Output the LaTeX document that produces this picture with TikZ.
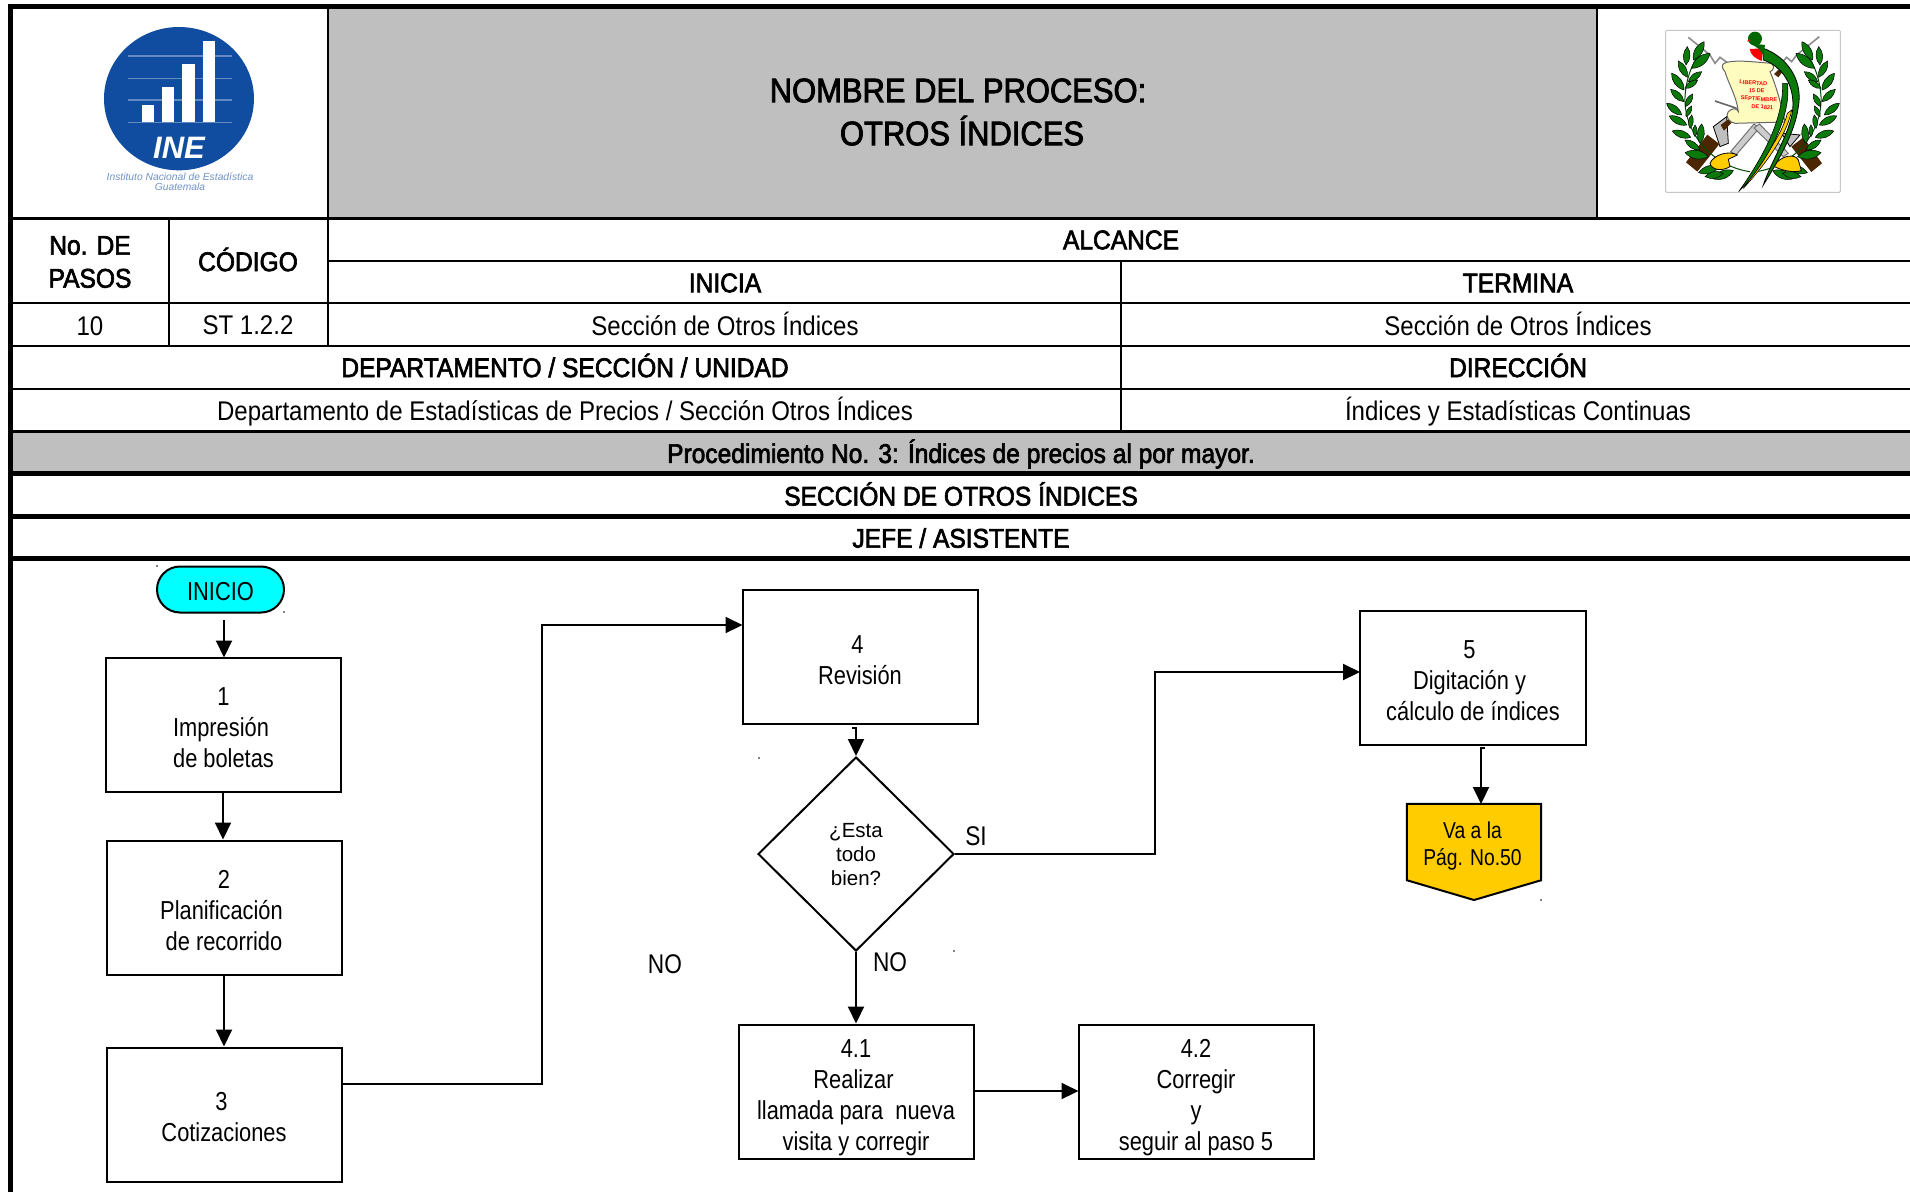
\documentclass[tikz,border=0pt]{standalone}
\usepackage{fontspec}
\setmainfont[FakeStretch=0.84]{Liberation Sans}
\newfontfamily\hdf[FakeStretch=0.91,FakeBold=2.4]{Liberation Sans}
\newfontfamily\cellf[FakeStretch=0.89]{Liberation Sans}
\newfontfamily\wdf{Liberation Sans}
\usetikzlibrary{arrows.meta,shapes.geometric,shapes.misc}
\definecolor{cellgray}{HTML}{BFBFBF}
\definecolor{inkblue}{HTML}{104C9F}
\definecolor{gold}{HTML}{FFCC00}
\definecolor{leafg}{HTML}{0B7A0B}
\definecolor{startcyan}{RGB}{0,255,255}
\tikzset{
  thinrule/.style={line width=2.4pt,black},
  thickrule/.style={line width=4.6pt,black},
  cell/.style={inner sep=0pt,align=center,font=\cellf\fontsize{27}{33}\selectfont},
  headcell/.style={inner sep=0pt,align=center,font=\hdf\fontsize{27}{33}\selectfont},
  procbox/.style={draw=black,line width=2pt,fill=white,inner sep=0pt,align=center,minimum width=235pt,minimum height=134pt,font=\fontsize{26}{31}\selectfont},
  flow/.style={line width=2pt,black,-{Triangle[length=17pt,width=16pt]}},
  lbl/.style={inner sep=0pt,font=\fontsize{27}{31}\selectfont},
  leaf/.style={fill=leafg,draw=black,line width=.5pt},
  speck/.style={fill=black,draw=none}
}
\newcommand{\dn}[1]{\mbox{}\\[#1pt]}
\newcommand{\lf}[4]{\path[leaf] (#1,#2) to[bend left=38] (#3,#4) to[bend left=38] (#1,#2) -- cycle;}
\newcommand{\laurelside}{%
  \draw[black!70!green,line width=1pt] (450,515) .. controls (340,500) and (250,400) .. (255,290) .. controls (258,240) and (275,190) .. (300,160);
  \lf{258}{195}{262}{140}\lf{262}{232}{235}{183}\lf{252}{270}{215}{220}\lf{252}{305}{212}{268}
  \lf{245}{345}{200}{310}\lf{260}{375}{208}{348}\lf{272}{412}{217}{393}\lf{300}{450}{255}{420}
  \lf{325}{470}{255}{458}\lf{358}{500}{296}{518}\lf{400}{512}{338}{536}\lf{370}{520}{315}{530}
  \lf{280}{180}{312}{125}\lf{275}{205}{330}{160}\lf{265}{245}{305}{215}\lf{255}{265}{293}{240}
  \lf{256}{320}{278}{282}\lf{258}{350}{275}{318}\lf{270}{385}{275}{345}\lf{285}{410}{285}{375}
  \lf{300}{430}{305}{372}%
}
\begin{document}
\begin{tikzpicture}[x=1pt,y=-1pt]
\useasboundingbox (0,0) rectangle (1910,1192);
\fill[white] (0,0) rectangle (1910,1192);
% shaded cells
\fill[cellgray] (328,6) rectangle (1597,218.5);
\fill[cellgray] (10,431) rectangle (1910,473);
% table rules
\foreach \yy in {218.5,303,346,389,431.5} \draw[thinrule] (10,\yy) -- (1910,\yy);
\draw[thinrule] (328,261) -- (1910,261);
\draw[thinrule] (169,218) -- (169,346);
\draw[thinrule] (328,6) -- (328,346);
\draw[thinrule] (1121,261) -- (1121,431);
\draw[thinrule] (1597,6) -- (1597,218);
\foreach \yy in {473.5,516.5,558.5} \draw[thickrule] (10,\yy) -- (1910,\yy);
\draw[line width=5pt] (10,1192) -- (10,6) -- (1910,6);
% table texts
\node[headcell,font=\hdf\fontsize{34}{43}\selectfont] (title) at (958,112) {NOMBRE DEL PROCESO:\\\kern8pt OTROS ÍNDICES};
\node[headcell] (pasos) at (90,262) {No. DE\\PASOS};
\node[headcell] (codigo) at (248,259.5) {CÓDIGO};
\node[cell] (npasos) at (90,326) {10};
\node[cell] (ncod) at (248,325) {ST 1.2.2};
\node[headcell] (alcance) at (1121,240) {ALCANCE};
\node[headcell] (inicia) at (725,283) {INICIA};
\node[headcell] (termina) at (1518,283) {TERMINA};
\node[cell] (sec1) at (725,324) {Sección de Otros Índices};
\node[cell] (sec2) at (1518,324) {Sección de Otros Índices};
\node[headcell] (depto) at (565,365.5) {DEPARTAMENTO / SECCIÓN / UNIDAD};
\node[headcell] (dir) at (1518,365.5) {DIRECCIÓN};
\node[cell] (deptotxt) at (565,412) {Departamento de Estadísticas de Precios / Sección Otros Índices};
\node[cell] (dirtxt) at (1518,411.5) {Índices y Estadísticas Continuas};
\node[headcell] (proc) at (961,454) {Procedimiento No. 3: Índices de precios al por mayor.};
\node[headcell] (secc) at (961,494) {SECCIÓN DE OTROS ÍNDICES};
\node[headcell] (jefe) at (961,538) {JEFE / ASISTENTE};
% INE logo
\begin{scope}[x=0.3333pt,y=-0.3333pt]
  \fill[inkblue] (537,296) ellipse [x radius=225,y radius=215];
  \foreach \yy in {168,235,300,368} \draw[white!35!inkblue,line width=1.2pt] (385,\yy) -- (695,\yy);
  \fill[white] (425,315) rectangle (462,365);
  \fill[white] (485,262) rectangle (523,365);
  \fill[white] (547,192) rectangle (585,365);
  \fill[white] (608,122) rectangle (645,365);
  \node[inner sep=0pt,text=white,font=\wdf\bfseries\itshape\fontsize{31}{31}\selectfont] (ine) at (537,443) {INE};
  \node[inner sep=0pt,align=center,text=inkblue!60,font=\wdf\itshape\fontsize{10.3}{10.5}\selectfont] (inetxt) at (540,545) {Instituto Nacional de Estadística\\Guatemala};
\end{scope}
% coat of arms
\begin{scope}[shift={(1600,0)},x=0.3333pt,y=-0.3333pt]
  \draw[black!22,line width=1pt,rounded corners=1pt] (197,91) rectangle (721,577);
  % swords
  \draw[black!45,line width=1.6pt] (265,112) -- (330,165) -- (345,190) -- (360,172) -- (385,190);
  \draw[black!45,line width=1.6pt] (658,110) -- (590,165) -- (575,185) -- (560,172) -- (530,205);
  \draw[black!55,fill=black!20,line width=1pt] (392,455) -- (462,372) -- (478,384) -- (408,465) -- cycle;
  \draw[black!55,fill=black!20,line width=1pt] (462,384) -- (478,372) -- (565,460) -- (550,470) -- cycle;
  % rifles
  \draw[black,fill=black!25,line width=.8pt] (340,380) -- (380,350) -- (385,430) -- (360,440) -- cycle;
  \draw[black,fill=black!25,line width=.8pt] (545,400) -- (600,405) -- (570,440) -- cycle;
  \fill[black!70!orange] (258,487) -- (292,515) -- (358,432) -- (322,404) -- cycle;
  \fill[black!70!orange] (362,375) -- (385,358) -- (395,368) -- (372,392) -- cycle;
  \fill[black!70!orange] (574,440) -- (610,412) -- (666,490) -- (634,516) -- cycle;
  \fill[black!70!orange] (522,222) -- (540,205) -- (550,212) -- (535,232) -- cycle;
  \draw[black!60,line width=1.6pt] (345,303) -- (410,325);
  % laurels
  \laurelside
  \begin{scope}[shift={(918,0)},xscale=-1]
    \laurelside
  \end{scope}
  % tassels
  \draw[black,fill=gold,line width=.8pt] (330,490) .. controls (340,465) and (385,450) .. (412,465) -- (385,478) -- (390,500) .. controls (365,515) and (335,510) .. cycle;
  \draw[black,fill=gold,line width=.8pt] (520,498) .. controls (545,465) and (585,460) .. (595,480) -- (604,512) .. controls (580,520) and (540,510) .. cycle;
  % scroll
  \draw[black!60,fill=yellow!25,line width=1pt] (372,190) .. controls (400,178) and (450,185) .. (515,190) .. controls (525,200) and (520,212) .. (510,215) .. controls (530,260) and (545,320) .. (555,366) -- (405,370) .. controls (385,368) and (375,345) .. (385,335) .. controls (395,325) and (410,322) .. (415,335) .. controls (410,290) and (385,250) .. (375,215) .. controls (365,205) and (365,195) .. cycle;
  \foreach \ln/\xx/\yy/\tt in {a/460/249/LIBERTAD,b/470/272/15 DE,c/477/297/SEPTIEMBRE,d/487/321/DE 1821}
    \node[inner sep=0pt,text=red,rotate=-4,font=\wdf\bfseries\fontsize{5.6}{6}\selectfont] (scroll\ln) at (\xx,\yy) {\tt};
  % quetzal
  \draw[black,fill=leafg,line width=.8pt] (490,145) .. controls (560,170) and (610,240) .. (595,320) .. controls (585,400) and (530,490) .. (490,555) .. controls (515,480) and (570,400) .. (578,330) .. controls (585,260) and (550,200) .. (490,180) -- cycle;
  \draw[black,fill=gold,line width=.6pt] (575,330) .. controls (560,410) and (490,500) .. (430,565) .. controls (480,490) and (545,410) .. (562,340) -- cycle;
  \draw[black,fill=leafg,line width=.6pt] (562,250) .. controls (575,340) and (510,480) .. (416,575) .. controls (490,470) and (550,360) .. (548,250) -- cycle;
  \fill[red] (449,147) -- (490,145) -- (485,183) .. controls (465,175) and (452,165) .. cycle;
  \fill[black!60!green] (465,116) circle [radius=21];
  \fill[black!60!green] (452,130) -- (495,135) -- (490,165) -- (478,148) -- cycle;
  \fill[red] (441,124) -- (450,114) -- (450,124) -- cycle;
\end{scope}
% flowchart
\begin{scope}[yshift=-1pt]
\node[draw=black,line width=2pt,fill=startcyan,rounded rectangle,inner sep=0pt,minimum width=127pt,minimum height=46pt,align=center,font=\fontsize{26}{31}\selectfont] (inicio) at (220.5,588.5) {\dn{-9.6}INICIO};
\node[procbox] (b1) at (223.5,723.5) {\dn{-7}1\\Impresión\kern5pt\\de boletas};
\node[procbox] (b2) at (224,907) {\dn{-6.8}2\\Planificación\kern5pt\\de recorrido};
\node[procbox] (b3) at (224,1113.5) {\dn{-6.8}3\kern5pt\\Cotizaciones};
\node[procbox] (b4) at (860,656) {\dn{-6.8}4\kern5pt\\Revisión};
\node[draw=black,line width=2pt,fill=white,diamond,aspect=1,inner sep=0pt,minimum width=196pt,minimum height=194pt,align=center,font=\wdf\fontsize{20.5}{24}\selectfont] (dec) at (856,853) {\dn{-9}¿Esta\\todo\\bien?};
\node[procbox] (b41) at (856,1090.5) {\dn{0}4.1\\Realizar\kern5pt\\llamada para\ \ nueva\\visita y corregir};
\node[procbox] (b42) at (1196,1090.5) {\dn{0}4.2\\Corregir\\y\\seguir al paso 5};
\node[procbox,minimum width=226pt] (b5) at (1473,677) {\dn{-7}5\kern7pt\\Digitación y\kern7pt\\cálculo de índices};
\node[inner sep=0pt,minimum width=134pt,minimum height=76pt] (off) at (1474,841) {};
\coordinate (offtip) at (1474,899);
\draw[line width=2pt,fill=gold] (off.north west) -- (off.north east) -- (off.south east) -- (offtip) -- (off.south west) -- cycle;
\node[inner sep=0pt,align=center,font=\fontsize{23}{27}\selectfont] (offtxt) at (1472.5,845) {Va a la\\Pág. No.50};
\node[lbl] (si) at (976,835) {SI};
\node[lbl] (nodec) at (890,961) {NO};
\node[lbl] (noleft) at (665,963) {NO};
% connectors
\coordinate (i1a) at (224,619);
\coordinate (i1b) at (224,656.5);
\draw[flow] (i1a) -- (i1b);
\coordinate (t12a) at (223,790.5);
\coordinate (t12b) at (223,838.5);
\draw[flow] (t12a) -- (t12b);
\draw[flow] (b2.south) -- (b3.north);
\coordinate (t3) at (341.5,1083);
\coordinate (t4) at (742.5,624);
\draw[flow] (t3) -| (542,624) -- (t4);
\coordinate (j4a) at (852,727);
\coordinate (j4b) at (856,727);
\draw[flow] (j4a) -- (j4b) -- (dec.north);
\draw[flow] (dec.south) -- (b41.north);
\coordinate (c41) at (973,1090);
\coordinate (c42) at (1078.5,1090);
\draw[flow] (c41) -- (c42);
\coordinate (t5) at (1360,671);
\draw[flow] (dec.east) -| (1155,671) -- (t5);
\coordinate (j5a) at (1485,747);
\coordinate (j5b) at (1481,747);
\coordinate (j5c) at (1481,803);
\draw[flow] (j5a) -- (j5b) -- (j5c);
% specks
\foreach \px/\py/\pn in {157/565/a,284/611/b,759/757/c,954/950/d,1541/899/e} \fill[speck] (\px,\py) circle [radius=.9];
\end{scope}
\end{tikzpicture}
\end{document}
